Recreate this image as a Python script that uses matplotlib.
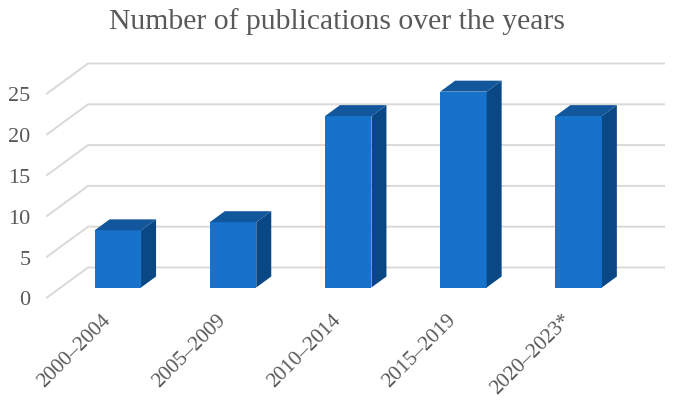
import matplotlib
matplotlib.use("Agg")
import matplotlib.pyplot as plt
from matplotlib.transforms import ScaledTranslation

categories = ["2000–2004", "2005–2009", "2010–2014", "2015–2019", "2020–2023*"]
counts = [7, 8, 21, 24, 21]
y_ticks = [0, 5, 10, 15, 20, 25]

W, H = 675, 414
# front edge of the floor in pixels
LEFT, RIGHT, BOTTOM, TOP = 47, 623, 298.5, 94.5
x_scale = (RIGHT - LEFT) / 5
y_scale = (BOTTOM - TOP) / 25

plt.rcParams["font.family"] = ["Liberation Serif", "DejaVu Serif"]

fig = plt.figure(figsize=(W / 100, H / 100), dpi=100)
ax = fig.add_axes([LEFT / W, 1 - BOTTOM / H, (RIGHT - LEFT) / W, (BOTTOM - TOP) / H])
ax.set_xlim(-0.5, 4.5)
ax.set_ylim(0, 25)


def px_x(p):
    return p / x_scale


def px_y(p):
    return p / y_scale


# floor/wall depth
wall_dx, wall_dy = px_x(41), px_y(30)
grid_color = "#d9d9d9"
for v in y_ticks:
    ax.plot([-0.5, -0.5 + wall_dx, 4.5 + wall_dx], [v, v + wall_dy, v + wall_dy],
            color=grid_color, lw=1.4, clip_on=False, zorder=1, solid_joinstyle="miter")

# bars sit part way into the floor
shift_x, shift_y = px_x(13.2), px_y(10)
bar_w = px_x(46.5)
dx, dy = px_x(15), px_y(11)
for i, c in enumerate(counts):
    x0 = i - bar_w / 2 + shift_x
    x1 = i + bar_w / 2 + shift_x
    y0 = shift_y
    y1 = c + shift_y
    ax.fill([x0, x1, x1, x0], [y0, y0, y1, y1], color="#1772cc", lw=0, clip_on=False, zorder=3)
    ax.fill([x1, x1 + dx, x1 + dx, x1], [y0, y0 + dy, y1 + dy, y1], color="#0a4785", lw=0,
            clip_on=False, zorder=3)
    ax.fill([x0, x1, x1 + dx, x0 + dx], [y1, y1, y1 + dy, y1 + dy], color="#12569b", lw=0,
            clip_on=False, zorder=3)

for s in ax.spines.values():
    s.set_visible(False)
ax.patch.set_visible(False)

ax.set_yticks(y_ticks)
ax.set_yticklabels([str(v) for v in y_ticks], fontsize=16, color="#595959")
ax.tick_params(axis="y", length=0, pad=12)
ax.set_xticks(range(5))
ax.set_xticklabels(categories, fontsize=15.3, color="#595959", rotation=45,
                   ha="right", rotation_mode="anchor")
ax.tick_params(axis="x", length=0, pad=9)
nudge = ScaledTranslation(-2.5 / 72, 0, fig.dpi_scale_trans)
for lab in ax.get_xticklabels():
    lab.set_transform(lab.get_transform() + nudge)

fig.text(337 / W, 1 - 22 / H, "Number of publications over the years", fontsize=21.3,
         color="#595959", ha="center", va="center")

fig.savefig("out.png", dpi=100)
